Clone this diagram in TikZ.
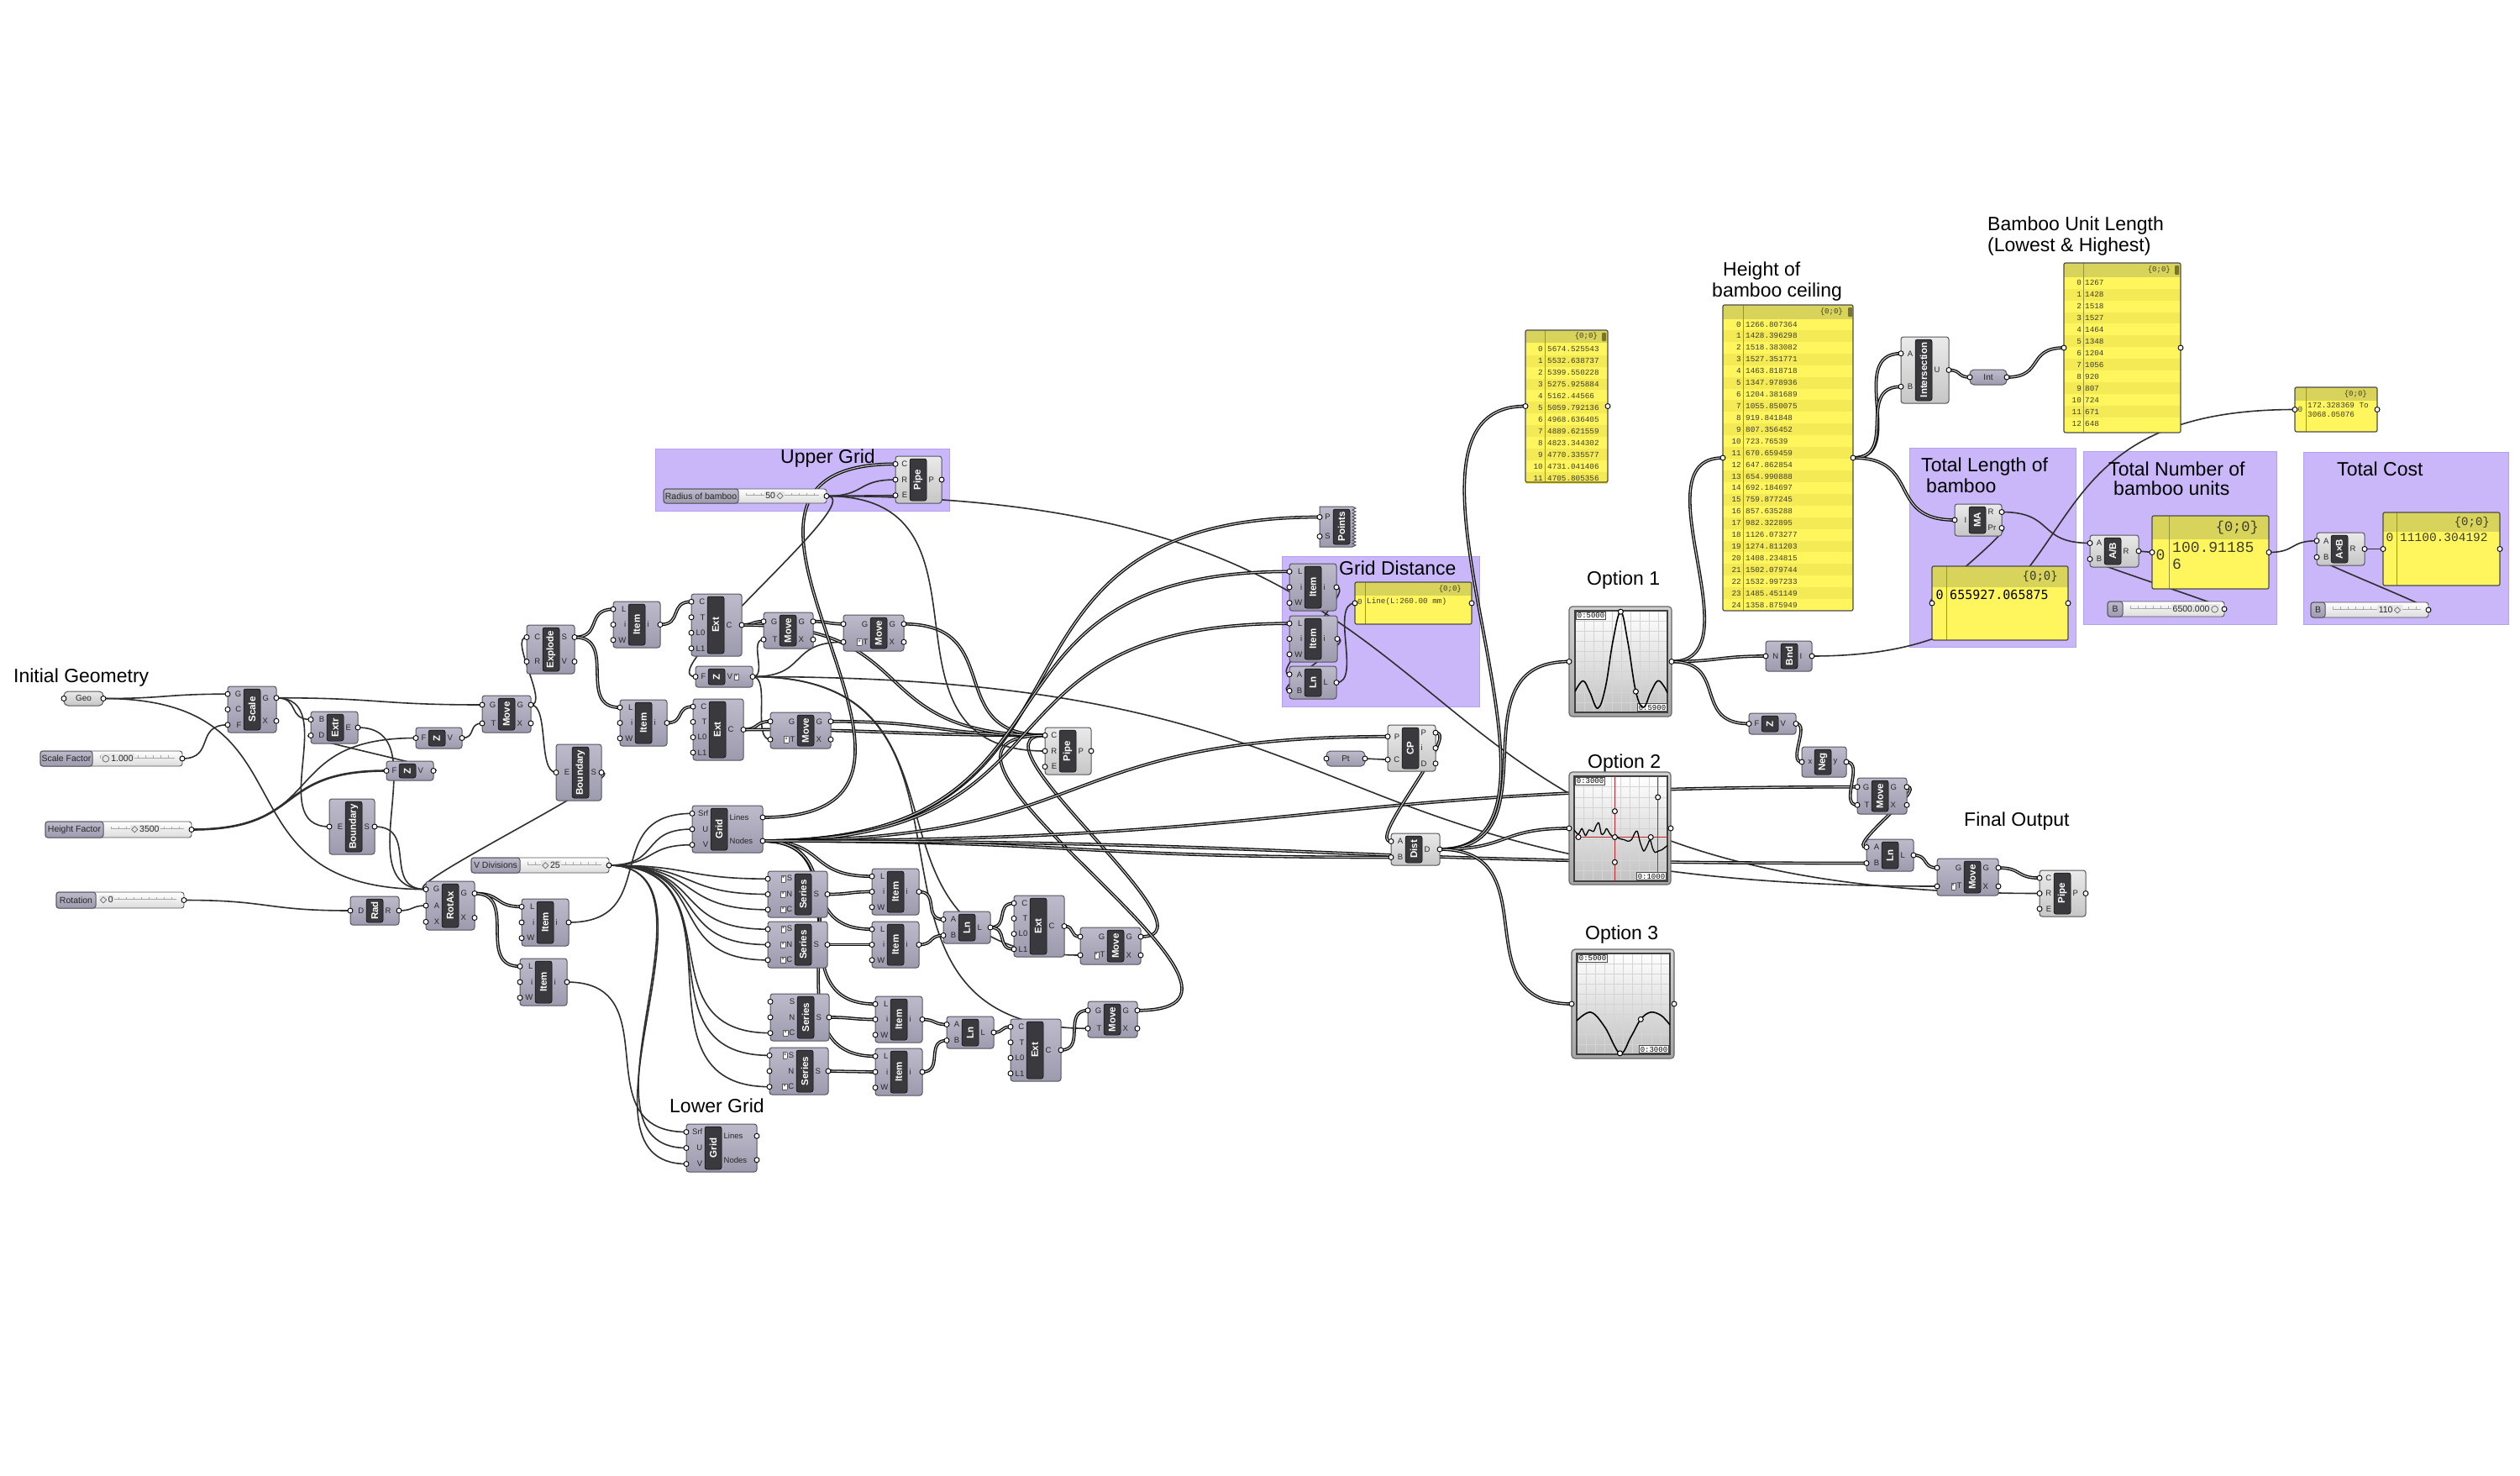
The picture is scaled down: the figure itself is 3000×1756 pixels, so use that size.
\documentclass[tikz,border=0pt]{standalone}
\usepackage{fontspec}
\setmainfont{Liberation Sans}
\newfontfamily\monof{Liberation Mono}
\newfontfamily\dvmono{DejaVu Sans Mono}
\newfontfamily\djv{DejaVu Sans}
\pgfdeclarelayer{grp}
\pgfdeclarelayer{wires}
\pgfsetlayers{grp,wires,main}
\definecolor{ghtop}{HTML}{BDBBCB}
\definecolor{ghbot}{HTML}{9C9AAD}
\definecolor{ghedge}{HTML}{55545E}
\definecolor{ghltop}{HTML}{EAEAEA}
\definecolor{ghlbot}{HTML}{C6C6C6}
\definecolor{ghstripc}{HTML}{3A3A3E}
\definecolor{grpc}{HTML}{C9B7F9}
\definecolor{grpedge}{HTML}{B5A2EE}
\definecolor{wirec}{HTML}{2E2E2E}
\definecolor{panyel}{HTML}{FFF65E}
\definecolor{panstripe}{HTML}{F3EA55}
\definecolor{panhead}{HTML}{D8D35B}
\definecolor{pantext}{HTML}{3C3C28}
\definecolor{trackc}{HTML}{E6E6E6}
\definecolor{graphred}{HTML}{C0282C}
\setlength{\fboxsep}{0.8pt}
\newcommand\ghfs[1]{\fontsize{#1}{#1}\selectfont}
\newcommand\astk[1]{\fcolorbox{black!65}{white}{\ghfs{8}*}\hspace{1.5pt}#1}
\newcommand\astkr[1]{#1\hspace{2pt}\fcolorbox{black!65}{white}{\ghfs{8}*}}
\tikzset{
 ghdark/.style={rounded corners=3pt,draw=ghedge,line width=1pt,top color=ghtop,bottom color=ghbot},
 ghlight/.style={rounded corners=3pt,draw=ghedge,line width=1pt,top color=ghltop,bottom color=ghlbot},
 ghstrip/.style={rounded corners=2.5pt,fill=ghstripc,draw=black,line width=0.5pt},
 ghlabel/.style={rotate=90,text=white,font=\bfseries\ghfs{11.5},inner sep=0pt},
 ghpin/.style={font=\ghfs{9.5},text=black!85,inner sep=0pt},
 ghport/.style={circle,draw=black,fill=white,line width=0.9pt,inner sep=0pt,minimum size=6pt},
 ghtrack/.style={rounded corners=3pt,draw=ghedge,line width=0.9pt,top color=white,bottom color=black!14},
 ghsl/.style={font=\ghfs{10.5},text=black!85,inner sep=0pt},
 grpbox/.style={fill=grpc,draw=grpedge,line width=1pt},
 ttl/.style={font=\ghfs{23},anchor=base west,inner sep=0pt},
 pantxt/.style={font=\monof\ghfs{9.3},text=pantext,inner sep=0pt},
 glab/.style={fill=white,draw=black!70,line width=0.7pt,font=\monof\ghfs{9},inner sep=1.5pt},
 gcurve/.style={draw=black,line width=1.6pt},
 gpt/.style={circle,draw=black,fill=white,line width=1pt,inner sep=0pt,minimum size=6pt},
 graphfr/.style={rounded corners=4pt,draw=black!60,line width=1.2pt,top color=black!18,bottom color=black!35},
 sw/.style={draw=wirec,line width=1.6pt},
 dw/.style={draw=black!95,line width=1.3pt,double=white!78!black,double distance=1.1pt},
 tw/.style={draw=wirec,line width=2.6pt}
}
\def\ghparse#1,#2,#3,#4,#5\relax{\def\gX{#1}\def\gY{#2}\def\gW{#3}\def\gH{#4}\def\gI{#5}}
\newcommand\ghc[6][ghdark]{%
  \ghparse#3\relax
  \pgfmathsetmacro\gXr{\gX+\gW}%
  \pgfmathsetmacro\gYb{\gY+\gH}%
  \pgfmathsetmacro\gSa{\gX+\gI}%
  \pgfmathsetmacro\gSb{\gX+\gI+20}%
  \path[#1] (\gX,\gY) rectangle (\gXr,\gYb);
  \path[ghstrip] (\gSa,\gY+3) rectangle (\gSb,\gYb-3);
  \node[ghlabel] at (\gSa+10,\gY+\gH/2) {#4};
  \foreach \plab [count=\kk] in {#5} {\xdef\gN{\kk}}%
  \foreach \plab [count=\kk] in {#5} {%
    \pgfmathsetmacro\py{\gY+\gH*(\kk-0.5)/\gN}%
    \coordinate (#2-i\kk) at (\gX,\py);
    \node[ghpin,anchor=east] at (\gSa-2.5,\py) {\plab};
    \node[ghport] at (\gX,\py) {};}%
  \foreach \plab [count=\kk] in {#6} {\xdef\gM{\kk}}%
  \foreach \plab [count=\kk] in {#6} {%
    \pgfmathsetmacro\py{\gY+\gH*(\kk-0.5)/\gM}%
    \coordinate (#2-o\kk) at (\gXr,\py);
    \node[ghpin,anchor=west] at (\gSb+2.5,\py) {\plab};
    \node[ghport] at (\gXr,\py) {};}%
}
\newcommand\ghslider[9]{%
  \pgfmathsetmacro\sXr{#2+#4}%
  \pgfmathsetmacro\sYb{#3+#5}%
  \pgfmathsetmacro\sXl{#2+#6}%
  \pgfmathsetmacro\sYm{#3+#5/2}%
  \path[ghtrack] (#2,#3) rectangle (\sXr,\sYb);
  \pgfmathtruncatemacro\sN{(#4-#6-18)/9}%
  \draw[black!35,line width=0.6pt] (\sXl+9,\sYm-1) -- (\sXr-9,\sYm-1);
  \foreach \ti in {0,...,\sN} {\draw[black!35,line width=0.6pt] (\sXl+9+9*\ti,\sYm-1) -- ++(0,-3);}
  \path[ghdark] (#2,#3) rectangle (\sXl,\sYb);
  \node[ghsl] at ({(#2+\sXl)/2},\sYm) {#7};
  \node[ghsl,fill=trackc,inner sep=1.5pt] at (#8,\sYm) {#9};
  \coordinate (#1-out) at (\sXr,\sYm);
  \node[ghport] at (\sXr,\sYm) {};}
\newcommand\ghparam[7][ghdark]{%
  \path[#1,rounded corners=5pt] (#3,#4) rectangle (#3+#5,#4+#6);
  \node[font=\ghfs{10},text=black!85] at (#3+#5/2,#4+#6/2) {#7};
  \coordinate (#2-in) at (#3,#4+#6/2);
  \coordinate (#2-out) at (#3+#5,#4+#6/2);
  \node[ghport] at (#2-in) {};
  \node[ghport] at (#2-out) {};}
\newcommand\ghpanelbg[5]{%
  \fill[panyel] (#1,#2) rectangle (#1+#3,#2+#4);
  \fill[panhead] (#1,#2) rectangle (#1+#3,#2+#5);}
\newcommand\ghpanelfg[8]{%
  \draw[black!30!panhead,line width=0.8pt] (#6,#3) -- (#6,#3+#5);
  \draw[black!70,line width=1.2pt,rounded corners=2pt] (#2,#3) rectangle (#2+#4,#3+#5);
  \node[font=#7,text=pantext,anchor=east,inner sep=0pt] at (#2+#4-12,#3+#8/2) {\{0;0\}};
  \coordinate (#1-in) at (#2,#3+#5/2);
  \coordinate (#1-out) at (#2+#4,#3+#5/2);
  \node[ghport] at (#1-in) {};
  \node[ghport] at (#1-out) {};}
\newcommand\ghrows[7]{%
  \foreach \vv [count=\kk from 0] in {#7} {%
    \pgfmathsetmacro\ry{#3+#4*\kk}%
    \ifodd\kk\relax\fill[panstripe] (#1,\ry-#4/2) rectangle (#1+#2,\ry+#4/2);\fi
    \node[pantxt,anchor=east] at (#5,\ry) {\kk};
    \node[pantxt,anchor=west] at (#6,\ry) {\vv};}}
\newcommand\ghgraph[9]{%
  \path[graphfr] (#2,#3) rectangle (#4,#5);
  \path[top color=white,bottom color=black!24] (#6,#7) rectangle (#8,#9);
  \foreach \gi in {1,...,9} {%
    \draw[black!17,line width=0.6pt] ({#6+(#8-#6)*\gi/10},#7) -- ({#6+(#8-#6)*\gi/10},#9);
    \draw[black!17,line width=0.6pt] (#6,{#7+(#9-#7)*\gi/10}) -- (#8,{#7+(#9-#7)*\gi/10});}%
  \draw[black!75,line width=1.4pt] (#6,#7) rectangle (#8,#9);
  \coordinate (#1-in) at (#2,{(#3+#5)/2});
  \coordinate (#1-out) at (#4,{(#3+#5)/2});
  \node[ghport] at (#1-in) {};
  \node[ghport] at (#1-out) {};}
\newcommand\ghwire[3][sw]{%
  \path (#2); \pgfgetlastxy{\wAx}{\wAy}%
  \path (#3); \pgfgetlastxy{\wBx}{\wBy}%
  \pgfmathsetmacro\wDd{0.5*abs(\wBx-\wAx)+0.3*abs(\wBy-\wAy)}%
  \draw[#1] (#2) .. controls +(\wDd pt,0) and +(-\wDd pt,0) .. (#3);}
\newcommand\ghwired[4][sw]{%
  \draw[#1] (#3) .. controls +(#2pt,0) and +(-#2pt,0) .. (#4);}
\begin{document}
\begin{tikzpicture}[x=1pt,y=-1pt]
\useasboundingbox (0,0) rectangle (3000,1756);
\begin{pgfonlayer}{grp}
\fill[white] (0,0) rectangle (3000,1756);
\path[grpbox] (780,534) rectangle (1130,608);
\path[grpbox] (1526,662) rectangle (1761,841);
\path[grpbox] (2273,533) rectangle (2471,770);
\path[grpbox] (2480,537) rectangle (2710,743);
\path[grpbox] (2742,538) rectangle (2986,743);
\end{pgfonlayer}

% titles
\node[ttl] at (16,812) {Initial Geometry};
\node[ttl] at (929,551) {Upper Grid};
\node[ttl] at (1594,684) {Grid Distance};
\node[ttl] at (797,1324) {Lower Grid};
\node[ttl] at (1889,696) {Option 1};
\node[ttl] at (1890,914) {Option 2};
\node[ttl] at (1887,1118) {Option 3};
\node[ttl] at (2338,983) {Final Output};
\node[ttl] at (2051,328) {Height of};
\node[ttl] at (2038,353) {bamboo ceiling};
\node[ttl] at (2366,274) {Bamboo Unit Length};
\node[ttl] at (2366,299) {(Lowest \& Highest)};
\node[ttl] at (2287,561) {Total Length of};
\node[ttl] at (2293,586) {bamboo};
\node[ttl] at (2510,566) {Total Number of};
\node[ttl] at (2516,589) {bamboo units};
\node[ttl] at (2782,566) {Total Cost};

% params and sliders
\ghparam[ghlight]{geo}{76}{823}{47}{17}{Geo}
\ghparam{pt}{1579}{894}{46}{18}{Pt}
\ghparam{int}{2345}{440}{44}{18}{Int}
\ghslider{sfac}{48}{894}{169}{18}{62}{Scale Factor}{140}{{\djv\bfseries ○}\,1.000}
\ghslider{hfac}{54}{978}{174}{19}{69}{Height Factor}{173}{{\djv ◇}\,3500}
\ghslider{rot}{67}{1062}{152}{19}{47}{Rotation}{127}{{\djv ◇}\,0}
\ghslider{vdiv}{561}{1021}{164}{18}{58}{V Divisions}{656}{{\djv ◇}\,25}
\ghslider{radius}{790}{582}{194}{17}{89}{Radius of bamboo}{922}{50\,{\djv ◇}}
\ghslider{sl65}{2509}{716}{139}{18}{18}{B}{2614}{6500.000\,{\djv\bfseries ○}}
\ghslider{sl110}{2751}{717}{140}{18}{17}{B}{2845}{110\,{\djv ◇}}

% components
\ghc{scale}{271,817,58,55,19}{Scale}{G,C,F}{G,X}
\ghc{extr}{370,847,56,38,19}{Extr}{B,D}{E}
\ghc{zup}{495,866,55,25,15}{Z}{F}{V}
\ghc{zlow}{460,906,56,23,15}{Z}{F}{V}
\ghc{movel}{574,828,58,44,19}{Move}{G,T}{G,X}
\ghc{explode}{627,744,57,58,19}{Explode}{C,R}{S,V}
\ghc{bndr}{662,886,54,67,19}{Boundary}{E}{S}
\ghc{bndl}{392,951,54,66,19}{Boundary}{E}{S}
\ghc{rad}{417,1067,58,34,19}{Rad}{D}{R}
\ghc{rotax}{507,1049,58,58,19}{RotAx}{G,A,X}{G,X}
\ghc{iteml1}{621,1070,56,56,18}{Item}{L,i,W}{i}
\ghc{iteml2}{619,1141,56,56,18}{Item}{L,i,W}{i}
\ghc[ghlight]{pipeu}{1066,543,55,56,17}{Pipe}{C,R,E}{P}
\ghc{itemt}{730,716,56,55,18}{Item}{L,i,W}{i}
\ghc{extt}{823,707,60,74,19}{Ext}{C,T,L0,L1}{C}
\ghc{movet1}{909,729,59,43,19}{Move}{G,T}{G,X}
\ghc{movet2}{1004,732,72,43,32}{Move}{G,\astk{T}}{G,X}
\ghc{zmid}{828,793,68,25,15}{Z}{F}{\astkr{V}}
\ghc{itemb}{738,833,56,55,18}{Item}{L,i,W}{i}
\ghc{extb}{825,832,60,73,19}{Ext}{C,T,L0,L1}{C}
\ghc{moveb}{917,848,72,43,32}{Move}{G,\astk{T}}{G,X}
\ghc[ghlight]{pipem}{1244,866,55,56,17}{Pipe}{C,R,E}{P}
\ghc{gridu}{824,959,84,56,22}{Grid}{Srf,U,V}{Lines,Nodes}
\ghc{ser1}{914,1037,71,55,32}{Series}{\astk{S},\astk{N},\astk{C}}{S}
\ghc{ser2}{914,1097,71,55,32}{Series}{\astk{S},\astk{N},\astk{C}}{S}
\ghc{items1}{1038,1034,56,55,18}{Item}{L,i,W}{i}
\ghc{items2}{1038,1097,56,55,18}{Item}{L,i,W}{i}
\ghc{ln1}{1123,1085,56,38,18}{Ln}{A,B}{L}
\ghc{ext1}{1207,1066,60,73,19}{Ext}{C,T,L0,L1}{C}
\ghc{move1}{1286,1104,72,44,32}{Move}{G,\astk{T}}{G,X}
\ghc{ser3}{917,1183,70,56,32}{Series}{S,N,\astk{C}}{S}
\ghc{ser4}{916,1247,70,56,32}{Series}{\astk{S},N,\astk{C}}{S}
\ghc{items3}{1042,1186,56,55,18}{Item}{L,i,W}{i}
\ghc{items4}{1042,1248,56,56,18}{Item}{L,i,W}{i}
\ghc{ln2}{1127,1210,56,38,18}{Ln}{A,B}{L}
\ghc{ext2}{1203,1213,60,74,19}{Ext}{C,T,L0,L1}{C}
\ghc{move2}{1295,1192,59,43,19}{Move}{G,T}{G,X}
\ghc{gridl}{817,1338,84,57,22}{Grid}{Srf,U,V}{Lines,Nodes}
\ghc{itemga}{1535,671,56,56,18}{Item}{L,i,W}{i}
\ghc{itemgb}{1535,733,57,55,18}{Item}{L,i,W}{i}
\ghc{lng}{1535,793,56,39,18}{Ln}{A,B}{L}
\ghc[ghlight]{cp}{1652,863,57,55,17}{CP}{P,C}{P,i,D}
\ghc[ghlight]{dist}{1656,992,58,38,17}{Dist}{A,B}{D}
\ghc[ghlight]{inter}{2263,401,57,79,17}{Intersection}{A,B}{U}
\ghc[ghlight]{ma}{2327,600,56,38,17}{MA}{I}{R,Pr}
\ghc{bnd}{2102,763,55,36,18}{Bnd}{N}{I}
\ghc{zr}{2082,849,56,25,15}{Z}{F}{V}
\ghc{neg}{2145,889,53,36,15}{Neg}{x}{y}
\ghc{mover}{2211,926,59,43,17}{Move}{G,T}{G,X}
\ghc{lnr}{2222,999,56,38,18}{Ln}{A,B}{L}
\ghc{movef}{2306,1022,73,44,32}{Move}{G,\astk{T}}{G,X}
\ghc[ghlight]{pipef}{2428,1036,55,55,17}{Pipe}{C,R,E}{P}
\ghc[ghlight]{adivb}{2488,637,58,38,17}{A/B}{A,B}{R}
\ghc[ghlight]{axb}{2758,634,57,39,17}{A×B}{A,B}{R}

% Points component
\path[top color=ghtop,bottom color=ghbot,draw=ghedge,line width=1pt] (1571,603) -- (1610,603)
  \foreach \zi in {0,...,11} { -- (1614,{605+4*\zi}) -- (1610,{607+4*\zi}) } -- (1571,651) -- cycle;
\path[ghstrip] (1587,606) rectangle (1607,648);
\node[ghlabel] at (1597,627) {Points};
\coordinate (points-i1) at (1571,615.5);
\coordinate (points-i2) at (1571,638.5);
\node[ghpin,anchor=east] at (1584,615.5) {P};
\node[ghpin,anchor=east] at (1584,638.5) {S};
\node[ghport] at (points-i1) {};
\node[ghport] at (points-i2) {};

% panels
\ghpanelbg{1816}{393}{98}{181}{15}
\ghrows{1816}{98}{415.7}{13.94}{1837}{1842}{5674.525543,5532.638737,5399.550228,5275.925884,5162.44566,5059.792136,4968.636405,4889.621559,4823.344302,4770.335577,4731.041406,4705.805356}
\ghpanelfg{pan1}{1816}{393}{98}{181}{1839}{\monof\ghfs{9}}{15}
\fill[black!45!panhead,rounded corners=1pt] (1907,396) rectangle (1912,406);

\ghpanelbg{2051}{363}{155}{364}{17}
\ghrows{2051}{155}{386}{13.92}{2073}{2078}{1266.807364,1428.396298,1518.383082,1527.351771,1463.818718,1347.978936,1204.381689,1055.850075,919.841848,807.356452,723.76539,670.659459,647.862854,654.990888,692.184697,759.877245,857.635288,982.322895,1126.073277,1274.811203,1408.234815,1502.079744,1532.997233,1485.451149,1358.875949}
\ghpanelfg{panh}{2051}{363}{155}{364}{2075}{\monof\ghfs{9}}{17}
\fill[black!45!panhead,rounded corners=1pt] (2200,366) rectangle (2205,377);

\ghpanelbg{2457}{313}{139}{202}{17}
\ghrows{2457}{139}{336.7}{13.94}{2478}{2482}{1267,1428,1518,1527,1464,1348,1204,1056,920,807,724,671,648}
\ghpanelfg{panbu}{2457}{313}{139}{202}{2480}{\monof\ghfs{9}}{17}
\fill[black!45!panhead,rounded corners=1pt] (2589,316) rectangle (2594,327);

\ghpanelbg{1613}{693}{139}{50}{16}
\node[pantxt] at (1619,716) {0};
\node[pantxt,anchor=west] at (1627,716) {Line(L:260.00 mm)};
\ghpanelfg{panl}{1613}{693}{139}{50}{1625}{\monof\ghfs{9}}{16}

\ghpanelbg{2732}{461}{98}{53}{16}
\node[pantxt] at (2738.5,487) {0};
\node[pantxt,anchor=west] at (2747,482) {172.328369 To};
\node[pantxt,anchor=west] at (2747,493) {3068.05076};
\ghpanelfg{pan172}{2732}{461}{98}{53}{2745}{\monof\ghfs{9}}{16}

\ghpanelbg{2300}{674}{162}{88}{25}
\node[font=\dvmono\ghfs{15},text=black,inner sep=0pt] at (2309,708) {0};
\node[font=\dvmono\ghfs{15},text=black,inner sep=0pt,anchor=west] at (2321,708) {655927.065875};
\ghpanelfg{pan655}{2300}{674}{162}{88}{2317}{\dvmono\ghfs{14}}{25}

\ghpanelbg{2562}{614}{139}{87}{28}
\node[font=\monof\ghfs{18},text=pantext,inner sep=0pt] at (2572,661) {0};
\node[font=\monof\ghfs{18},text=pantext,inner sep=0pt,anchor=west] at (2586,652) {100.91185};
\node[font=\monof\ghfs{18},text=pantext,inner sep=0pt,anchor=west] at (2586,672) {6};
\ghpanelfg{pan100}{2562}{614}{139}{87}{2582}{\monof\ghfs{17}}{28}

\ghpanelbg{2837}{610}{139}{87}{23}
\node[font=\monof\ghfs{14.5},text=pantext,inner sep=0pt] at (2845,640) {0};
\node[font=\monof\ghfs{14.5},text=pantext,inner sep=0pt,anchor=west] at (2857,640) {11100.304192};
\ghpanelfg{pan111}{2837}{610}{139}{87}{2853}{\monof\ghfs{14}}{23}

% graphs
\ghgraph{g1}{1868}{722}{1990}{853}{1875}{727}{1985}{848}
\node[glab,anchor=north west] at (1876,728) {0:5000};
\node[glab,anchor=south east] at (1985,847) {0:5900};
\begin{scope}[shift={(1875,848)},x=110pt,y=121pt]
 \begin{scope}
 \clip (0,0) rectangle (1,1);
 \draw[gcurve] plot[smooth,tension=0.65] coordinates {(0,0.205) (0.087,0.31) (0.16,0.2) (0.247,0.04) (0.33,0.25) (0.41,0.7) (0.494,0.99) (0.57,0.7) (0.658,0.205) (0.74,0.05) (0.82,0.2) (0.894,0.31) (0.96,0.26) (1,0.19)};
 \end{scope}
 \node[gpt] at (0.494,0.99) {};
 \node[gpt] at (0.658,0.205) {};
\end{scope}

\ghgraph{g2}{1868}{919}{1989}{1053}{1874}{924}{1985}{1049}
\begin{scope}[shift={(1874,1049)},x=111pt,y=125pt]
 \begin{scope}
 \clip (0,0) rectangle (1,1);
 \draw[graphred,line width=1.2pt] (0.436,0) -- (0.436,1);
 \draw[graphred,line width=1.2pt] (0.898,0) -- (0.898,1);
 \draw[graphred,line width=1.2pt] (0,0.42) -- (1,0.42);
 \draw[draw=black,line width=1.3pt] plot[smooth,tension=0.5] coordinates {(0,0.488) (0.045,0.448) (0.083,0.501) (0.121,0.435) (0.159,0.488) (0.208,0.475) (0.235,0.528) (0.265,0.555) (0.292,0.448) (0.322,0.461) (0.348,0.501) (0.386,0.448) (0.424,0.421) (0.443,0.44) (0.481,0.408) (0.538,0.395) (0.576,0.381) (0.614,0.395) (0.652,0.461) (0.678,0.475) (0.708,0.368) (0.746,0.288) (0.784,0.341) (0.814,0.395) (0.841,0.315) (0.867,0.275) (0.905,0.288) (0.943,0.301) (1,0.341)};
 \end{scope}
\end{scope}
\node[glab,anchor=north west] at (1875,925) {0:3000};
\node[glab,anchor=south east] at (1984,1048) {0:1000};
\begin{scope}[shift={(1874,1049)},x=111pt,y=125pt]
 \foreach \gp in {(0.436,0.667),(0.436,0.181),(0.898,0.8),(0.045,0.42),(0.436,0.42),(0.822,0.42)} {\node[gpt] at \gp {};}
\end{scope}

\ghgraph{g3}{1871}{1130}{1993}{1260}{1877}{1135}{1988}{1255}
\node[glab,anchor=north west] at (1878,1136) {0:5000};
\node[glab,anchor=south east] at (1987,1254) {0:3000};
\begin{scope}[shift={(1877,1255)},x=111pt,y=120pt]
 \begin{scope}
 \clip (0,0) rectangle (1,1);
 \draw[gcurve] plot[smooth,tension=0.6] coordinates {(0,0.333) (0.151,0.417) (0.302,0.27) (0.464,0.008) (0.58,0.17) (0.687,0.347) (0.792,0.417) (0.906,0.385) (1,0.292)};
 \end{scope}
 \node[gpt] at (0.464,0.01) {};
 \node[gpt] at (0.687,0.347) {};
\end{scope}

% wires
\begin{pgfonlayer}{wires}
\ghwire{geo-out}{scale-i1}
\ghwire{geo-out}{rotax-i1}
\ghwire{sfac-out}{scale-i3}
\ghwire{scale-o1}{movel-i1}
\ghwire{scale-o1}{extr-i1}
\ghwire{scale-o1}{bndl-i1}
\ghwire[tw]{hfac-out}{zlow-i1}
\ghwire{hfac-out}{zup-i1}
\ghwire{zup-o1}{movel-i2}
\ghwired{30}{zlow-o1}{extr-i2}
\ghwire{extr-o1}{rotax-i1}
\ghwire{bndl-o1}{rotax-i1}
\ghwire{rot-out}{rad-i1}
\ghwire{rad-o1}{rotax-i2}
\ghwired{22}{movel-o1}{explode-i1}
\ghwired{22}{movel-o1}{bndr-i1}
\ghwired{40}{bndr-o1}{rotax-i1}
\ghwire[dw]{rotax-o1}{iteml1-i1}
\ghwire[dw]{rotax-o1}{iteml2-i1}
\ghwire{iteml1-o1}{gridu-i1}
\ghwire{iteml2-o1}{gridl-i1}
\foreach \tg in {gridu-i2,gridu-i3,gridl-i2,gridl-i3,ser1-i1,ser1-i2,ser1-i3,ser2-i1,ser2-i2,ser2-i3,ser3-i3,ser4-i1,ser4-i3} {\ghwire{vdiv-out}{\tg}}
\ghwire[dw]{explode-o1}{itemt-i1}
\ghwire[dw]{explode-o1}{itemb-i1}
\ghwire[dw]{itemt-o1}{extt-i1}
\ghwire[dw]{itemb-o1}{extb-i1}
\ghwire[dw]{extt-o1}{movet1-i1}
\ghwire[dw]{movet1-o1}{movet2-i1}
\ghwired{18}{zmid-o1}{movet1-i2}
\ghwire{zmid-o1}{movet2-i2}
\ghwired{22}{zmid-o1}{moveb-i2}
\ghwire[dw]{extb-o1}{moveb-i1}
\foreach \sg in {extb-o1,moveb-o1,movet2-o1,extt-o1} {\ghwire[dw]{\sg}{pipem-i1}}
\ghwired[dw]{100}{move1-o1}{pipem-i1}
\ghwired[dw]{220}{move2-o1}{pipem-i1}
\ghwire{radius-out}{pipeu-i2}
\ghwire{radius-out}{pipeu-i3}
\ghwired[dw]{300}{gridu-o1}{pipeu-i1}
\ghwired{55}{radius-out}{zmid-i1}
\ghwire{radius-out}{pipem-i2}
\ghwire{radius-out}{pipef-i2}
\ghwire{zmid-o1}{move1-i2}
\ghwire{zmid-o1}{move2-i2}
\ghwire{zmid-o1}{movef-i2}
\ghwire[dw]{ser1-o1}{items1-i2}
\ghwire[dw]{ser2-o1}{items2-i2}
\ghwire[dw]{ser3-o1}{items3-i2}
\ghwire[dw]{ser4-o1}{items4-i2}
\foreach \tg in {items1-i1,items2-i1,items3-i1,items4-i1} {\ghwire[dw]{gridu-o2}{\tg}}
\ghwire[dw]{items1-o1}{ln1-i1}
\ghwire[dw]{items2-o1}{ln1-i2}
\ghwire[dw]{ln1-o1}{ext1-i1}
\ghwire[dw]{ln1-o1}{ext1-i4}
\ghwire[dw]{ext1-o1}{move1-i1}
\ghwire[dw]{items3-o1}{ln2-i1}
\ghwire[dw]{items4-o1}{ln2-i2}
\ghwire[dw]{ln2-o1}{ext2-i1}
\ghwire[dw]{ext2-o1}{move2-i1}
\foreach \tg in {points-i1,itemga-i1,itemgb-i1,cp-i1,dist-i2,mover-i1,lnr-i2} {\ghwire[dw]{gridu-o2}{\tg}}
\ghwired{25}{itemga-o1}{lng-i1}
\ghwired{25}{itemgb-o1}{lng-i2}
\ghwired{30}{lng-o1}{panl-in}
\ghwire{pt-out}{cp-i2}
\ghwired[dw]{30}{cp-o1}{dist-i1}
\ghwired[dw]{200}{dist-o1}{pan1-in}
\ghwire[dw]{dist-o1}{g1-in}
\ghwire[dw]{dist-o1}{g2-in}
\ghwire[dw]{dist-o1}{g3-in}
\ghwire[dw]{g1-out}{panh-in}
\ghwire[dw]{g1-out}{bnd-i1}
\ghwire[dw]{g1-out}{zr-i1}
\ghwire{bnd-o1}{pan172-in}
\ghwire[dw]{panh-out}{inter-i1}
\ghwire[dw]{panh-out}{inter-i2}
\ghwire[dw]{panh-out}{ma-i1}
\ghwire[dw]{inter-o1}{int-in}
\ghwire[dw]{int-out}{panbu-in}
\ghwire{ma-o1}{adivb-i1}
\ghwired{18}{ma-o2}{pan655-in}
\ghwired{14}{sl65-out}{adivb-i2}
\ghwire{adivb-o1}{pan100-in}
\ghwire{pan100-out}{axb-i1}
\ghwired{14}{sl110-out}{axb-i2}
\ghwire{axb-o1}{pan111-in}
\ghwire[dw]{zr-o1}{neg-i1}
\ghwire[dw]{neg-o1}{mover-i2}
\ghwired[dw]{25}{mover-o1}{lnr-i1}
\ghwire[dw]{lnr-o1}{movef-i1}
\ghwire[dw]{movef-o1}{pipef-i1}
\end{pgfonlayer}
\end{tikzpicture}
\end{document}
